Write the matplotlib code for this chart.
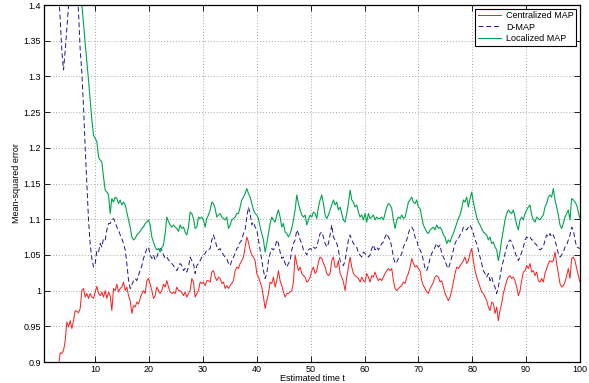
import numpy as np
import matplotlib
matplotlib.use('Agg')
import matplotlib.pyplot as plt

plt.rcParams['font.family'] = ['Liberation Sans', 'DejaVu Sans']

# time grid (at a fixed step)
t_start, t_end, n_pts = 2.58, 100.0, 316
nan = np.nan

centralized = [
    nan, nan, 0.895, 0.913, 0.912, 0.916, 0.930, 0.956, 0.949, 0.958,
    0.947, 0.958, 0.972, 0.971, 0.969, 0.975, 1.000, 1.003, 0.991, 0.996,
    0.989, 0.996, 0.991, 0.989, 0.998, 1.006, 0.996, 0.993, 0.998, 0.991,
    1.000, 0.989, 0.998, 0.993, 0.972, 1.003, 1.000, 1.009, 0.998, 1.003,
    1.005, 1.012, 1.000, 1.005, 0.993, 0.986, 0.968, 0.979, 0.977, 0.984,
    0.981, 0.989, 0.996, 1.000, 0.996, 1.014, 1.017, 1.009, 1.000, 0.989,
    0.993, 1.005, 1.000, 0.996, 1.000, 1.009, 1.005, 1.014, 1.005, 0.998,
    0.996, 0.998, 0.996, 1.005, 1.000,
    # 25.7 .. 62.5
    1.000, 0.997, 0.993, 0.998, 0.991, 0.996, 1.000, 1.017, 1.012, 0.991,
    0.996, 1.000, 1.012, 1.010, 1.012, 1.007, 1.014, 1.014, 1.012, 1.026,
    1.028, 1.019, 1.014, 1.019, 1.017, 1.010, 1.012, 1.003, 1.007, 1.003,
    1.007, 1.010, 1.014, 1.028, 1.033, 1.031, 1.038, 1.042, 1.047, 1.061,
    1.075, 1.068, 1.057, 1.050, 1.047, 1.042, 1.024, 1.019, 1.012, 1.005,
    0.991, 0.975, 0.986, 0.996, 1.012, 1.010, 1.019, 1.005, 1.014, 1.028,
    1.014, 1.007, 0.998, 0.991, 0.996, 0.996, 0.998, 1.000, 1.012, 1.050,
    1.038, 1.028, 1.033, 1.024, 1.021, 1.019, 1.012, 1.014, 1.019, 1.028,
    1.033, 1.024, 1.028, 1.040, 1.047, 1.045, 1.038, 1.033, 1.024, 1.021,
    1.024, 1.042, 1.047, 1.033, 1.033, 1.042, 1.024, 1.019, 1.012, 1.000,
    1.019, 1.033, 1.047, 1.033, 1.024, 1.021, 1.019, 1.017, 1.012, 1.019,
    1.014, 1.012, 1.024, 1.019, 1.012, 1.021, 1.019, 1.026, 1.019, 1.014,
    # 62.9 .. 100
    1.017, 1.014, 1.019, 1.024, 1.028, 1.031, 1.028, 1.031, 1.014, 1.003,
    1.000, 1.003, 1.005, 1.007, 1.012, 1.010, 1.019, 1.024, 1.033, 1.045,
    1.038, 1.033, 1.035, 1.031, 1.028, 1.014, 1.007, 1.003, 0.998, 0.996,
    1.003, 1.007, 1.012, 1.019, 1.021, 1.019, 1.012, 1.014, 1.005, 0.996,
    0.991, 0.986, 0.991, 1.000, 1.012, 1.024, 1.033, 1.031, 1.035, 1.038,
    1.042, 1.047, 1.038, 1.042, 1.052, 1.059, 1.042, 1.028, 1.019, 1.012,
    1.005, 0.998, 0.996, 0.991, 0.986, 0.977, 0.972, 0.984, 0.982, 0.968,
    0.977, 0.958, 0.972, 0.982, 0.996, 1.005, 1.014, 1.019, 1.021, 1.017,
    1.019, 1.014, 1.005, 0.993, 1.000, 1.014, 1.026, 1.028, 1.035, 1.031,
    1.038, 1.026, 1.028, 1.021, 1.026, 1.014, 1.012, 1.017, 1.012, 1.024,
    1.031, 1.038, 1.042, 1.040, 1.042, 1.054, 1.038, 1.024, 1.010, 1.005,
    1.007, 1.012, 1.021, 1.031, 1.017, 1.045, 1.047, 1.042, 1.031, 1.021,
    1.012,
]

dmap = [
    1.50, 1.46, 1.42, 1.38, 1.335, 1.309, 1.337, 1.367, 1.40, 1.43,
    1.46, 1.47, 1.46, 1.43, 1.39, 1.337, 1.305, 1.258, 1.20, 1.15,
    1.099, 1.065, 1.045, 1.033, 1.038, 1.056, 1.054, 1.066, 1.061, 1.073,
    1.071, 1.085, 1.094, 1.094, 1.099, 1.101, 1.096, 1.089, 1.085, 1.078,
    1.073, 1.066, 1.057, 1.038, 1.015, 1.003, 1.008, 1.014, 1.017, 1.014,
    1.022, 1.028, 1.035, 1.045, 1.052, 1.059, 1.061, 1.050, 1.045, 1.050,
    1.043, 1.047, 1.054, 1.059, 1.057, 1.050, 1.045, 1.047, 1.043, 1.040,
    1.038, 1.035, 1.031, 1.028, 1.033,
    1.038, 1.035, 1.028, 1.031, 1.026, 1.033, 1.047, 1.042, 1.038, 1.024,
    1.035, 1.038, 1.042, 1.047, 1.050, 1.052, 1.057, 1.057, 1.059, 1.071,
    1.078, 1.071, 1.061, 1.057, 1.059, 1.054, 1.050, 1.047, 1.045, 1.038,
    1.035, 1.042, 1.047, 1.052, 1.059, 1.061, 1.068, 1.071, 1.080, 1.085,
    1.103, 1.117, 1.108, 1.092, 1.096, 1.089, 1.085, 1.071, 1.057, 1.042,
    1.028, 1.017, 1.024, 1.042, 1.052, 1.059, 1.057, 1.061, 1.071, 1.066,
    1.054, 1.045, 1.047, 1.038, 1.033, 1.038, 1.042, 1.057, 1.066, 1.071,
    1.085, 1.080, 1.071, 1.066, 1.057, 1.054, 1.050, 1.057, 1.059, 1.057,
    1.061, 1.059, 1.061, 1.071, 1.080, 1.082, 1.075, 1.066, 1.061, 1.066,
    1.078, 1.092, 1.075, 1.071, 1.066, 1.057, 1.042, 1.038, 1.035, 1.042,
    1.057, 1.071, 1.078, 1.071, 1.066, 1.064, 1.061, 1.052, 1.050, 1.047,
    1.054, 1.052, 1.050, 1.047, 1.050, 1.059, 1.064, 1.057, 1.061, 1.057,
    1.061, 1.066, 1.068, 1.075, 1.080, 1.075, 1.071, 1.061, 1.047, 1.038,
    1.040, 1.045, 1.047, 1.052, 1.061, 1.066, 1.071, 1.080, 1.087, 1.089,
    1.085, 1.075, 1.071, 1.061, 1.057, 1.052, 1.042, 1.031, 1.028, 1.035,
    1.045, 1.052, 1.057, 1.061, 1.066, 1.061, 1.064, 1.052, 1.047, 1.042,
    1.035, 1.031, 1.038, 1.047, 1.057, 1.066, 1.071, 1.073, 1.078, 1.080,
    1.089, 1.087, 1.085, 1.089, 1.092, 1.087, 1.080, 1.071, 1.066, 1.057,
    1.047, 1.038, 1.028, 1.024, 1.019, 1.024, 1.014, 1.019, 1.010, 1.005,
    0.996, 1.005, 1.019, 1.033, 1.042, 1.052, 1.061, 1.068, 1.071, 1.068,
    1.061, 1.054, 1.047, 1.042, 1.047, 1.054, 1.061, 1.071, 1.075, 1.073,
    1.075, 1.071, 1.071, 1.066, 1.064, 1.059, 1.057, 1.059, 1.061, 1.071,
    1.078, 1.075, 1.080, 1.075, 1.078, 1.071, 1.061, 1.052, 1.047, 1.050,
    1.054, 1.061, 1.064, 1.071, 1.078, 1.089, 1.085, 1.071, 1.061, 1.060,
    1.059,
]

localized = [
    nan, nan, nan, nan, nan, nan, nan, nan, nan, nan,
    nan, nan, nan, nan, nan, 1.43, 1.400, 1.374, 1.346, 1.321,
    1.295, 1.267, 1.239, 1.218, 1.213, 1.209, 1.187, 1.183, 1.180, 1.159,
    1.141, 1.138, 1.134, 1.108, 1.129, 1.124, 1.131, 1.129, 1.122, 1.127,
    1.120, 1.124, 1.120, 1.110, 1.099, 1.089, 1.075, 1.071, 1.073, 1.078,
    1.080, 1.083, 1.087, 1.089, 1.094, 1.096, 1.099, 1.092, 1.075, 1.068,
    1.061, 1.057, 1.059, 1.054, 1.060, 1.064, 1.080, 1.103, 1.097, 1.092,
    1.089, 1.092, 1.089, 1.087, 1.083,
    1.092, 1.087, 1.089, 1.082, 1.078, 1.089, 1.110, 1.108, 1.101, 1.087,
    1.089, 1.103, 1.101, 1.103, 1.099, 1.089, 1.101, 1.106, 1.113, 1.124,
    1.122, 1.115, 1.103, 1.106, 1.108, 1.103, 1.101, 1.099, 1.103, 1.087,
    1.092, 1.099, 1.101, 1.103, 1.108, 1.108, 1.117, 1.127, 1.131, 1.136,
    1.143, 1.136, 1.131, 1.122, 1.113, 1.108, 1.106, 1.101, 1.089, 1.080,
    1.071, 1.054, 1.066, 1.080, 1.094, 1.103, 1.099, 1.096, 1.106, 1.113,
    1.103, 1.089, 1.094, 1.082, 1.080, 1.075, 1.080, 1.087, 1.099, 1.113,
    1.134, 1.122, 1.113, 1.106, 1.103, 1.106, 1.092, 1.099, 1.106, 1.103,
    1.110, 1.108, 1.101, 1.117, 1.127, 1.134, 1.122, 1.106, 1.101, 1.106,
    1.113, 1.120, 1.127, 1.120, 1.124, 1.113, 1.117, 1.108, 1.099, 1.096,
    1.108, 1.122, 1.141, 1.127, 1.124, 1.117, 1.120, 1.110, 1.103, 1.106,
    1.099, 1.108, 1.096, 1.108, 1.101, 1.103, 1.106, 1.099, 1.103, 1.101,
    1.101, 1.103, 1.099, 1.108, 1.117, 1.122, 1.120, 1.115, 1.099, 1.087,
    1.099, 1.103, 1.101, 1.106, 1.101, 1.103, 1.113, 1.124, 1.127, 1.131,
    1.124, 1.122, 1.127, 1.117, 1.115, 1.103, 1.092, 1.087, 1.082, 1.080,
    1.085, 1.087, 1.089, 1.085, 1.092, 1.087, 1.089, 1.085, 1.078, 1.075,
    1.066, 1.071, 1.068, 1.075, 1.080, 1.087, 1.094, 1.101, 1.106, 1.115,
    1.127, 1.124, 1.131, 1.117, 1.129, 1.138, 1.124, 1.113, 1.103, 1.096,
    1.092, 1.087, 1.082, 1.080, 1.078, 1.071, 1.075, 1.066, 1.068, 1.061,
    1.057, 1.042, 1.054, 1.071, 1.085, 1.099, 1.108, 1.113, 1.110, 1.108,
    1.113, 1.103, 1.092, 1.085, 1.099, 1.103, 1.099, 1.108, 1.113, 1.117,
    1.120, 1.106, 1.099, 1.096, 1.103, 1.101, 1.099, 1.103, 1.106, 1.117,
    1.122, 1.131, 1.134, 1.131, 1.143, 1.127, 1.117, 1.106, 1.092, 1.087,
    1.094, 1.103, 1.108, 1.113, 1.099, 1.129, 1.127, 1.124, 1.120, 1.110,
    1.101,
]

t = np.linspace(t_start, t_end, n_pts)

fig = plt.figure(figsize=(5.89, 3.83), dpi=100)
ax = fig.add_axes([0.0747, 0.0548, 0.91, 0.932])

ax.plot(t, centralized, color='#ff1a1a', lw=0.7, label='Centralized MAP')
ax.plot(t, dmap, color='#1a1a8c', lw=0.7, linestyle=(0, (5, 3)), label='D-MAP')
ax.plot(t, localized, color='#00a550', lw=0.8, label='Localized MAP')

ax.set_xlim(0.5, 100)
ax.set_ylim(0.9, 1.4)
ax.set_xticks(np.arange(10, 101, 10))
ax.set_yticks(np.arange(0.9, 1.401, 0.05))
ax.set_yticklabels(['0.9', '0.95', '1', '1.05', '1.1', '1.15', '1.2', '1.25', '1.3', '1.35', '1.4'])
ax.tick_params(direction='in', top=True, right=True, labelsize=6.5, length=4, width=0.6, pad=2)
ax.grid(True, linestyle=(0, (1, 2.5)), color='#888888', linewidth=0.6)
for s in ax.spines.values():
    s.set_linewidth(0.9)

ax.set_xlabel('Estimated time t', fontsize=6.5, labelpad=0)
ax.set_ylabel('Mean-squared error', fontsize=6.5, labelpad=2)

leg = ax.legend(loc='upper right', fontsize=6.5, fancybox=False, framealpha=1,
                edgecolor='black', borderaxespad=0.4, handlelength=2.6,
                handletextpad=0.5, labelspacing=0.25, borderpad=0.3)
leg.get_frame().set_linewidth(0.8)

fig.savefig('out.png', dpi=100)
